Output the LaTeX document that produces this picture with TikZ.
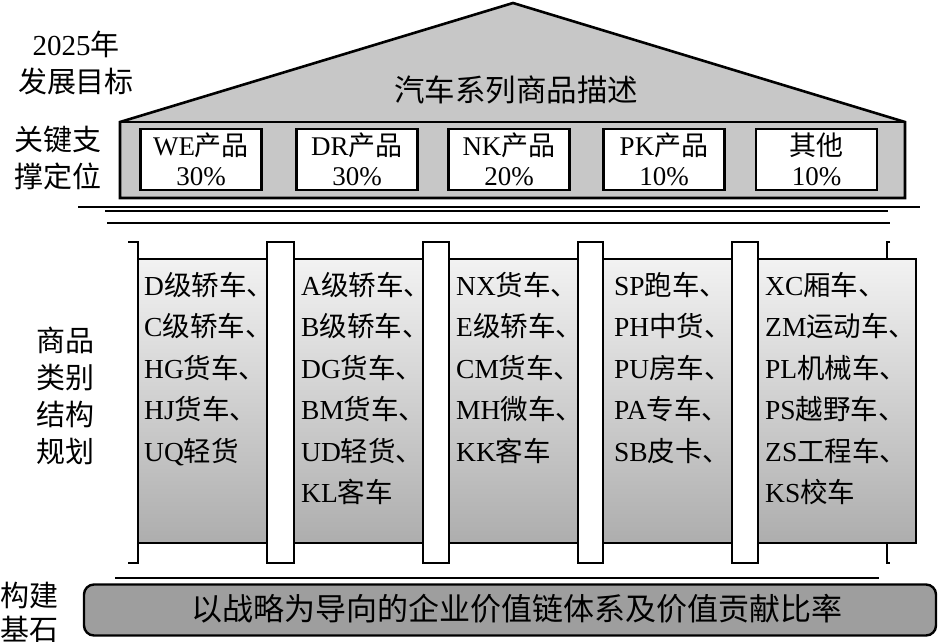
\documentclass[tikz,border=0pt]{standalone}
\usepackage{fontspec}
\usepackage{tikz}
\setmainfont{Liberation Serif}
\newfontfamily\cjkfont{Noto Sans CJK SC}
% switch to the CJK face between Latin and Chinese characters
\XeTeXinterchartokenstate=1
\newXeTeXintercharclass\cjkclass
\newcount\cjkchar
\cjkchar="3000
\loop
  \XeTeXcharclass\cjkchar=\cjkclass
  \advance\cjkchar by 1
\ifnum\cjkchar<"A000 \repeat
\XeTeXinterchartoks 0 \cjkclass={\cjkfont}
\XeTeXinterchartoks 4095 \cjkclass={\cjkfont}
\XeTeXinterchartoks \cjkclass 0={\rmfamily}
\XeTeXinterchartoks \cjkclass 4095={\rmfamily}
\tikzset{
  housebody/.style={draw=black,line width=2.6pt,fill=black!22,line join=miter},
  prodbox/.style={draw=black,line width=2.4pt,fill=white,
    minimum width=121pt,minimum height=61pt,inner sep=0pt,align=center,
    font=\fontsize{27}{30}\selectfont},
  pillar/.style={draw=black,line width=2.4pt,fill=white},
  panel/.style={draw=black,line width=2.4pt,top color=black!5,bottom color=black!32},
  itemtext/.style={anchor=north west,align=left,inner sep=0pt,
    font=\fontsize{27.5}{41.5}\selectfont},
  sidelabel/.style={align=center,inner sep=0pt,font=\fontsize{29}{37}\selectfont},
  basebar/.style={draw=black,line width=2.4pt,fill=black!38,rounded corners=10pt,
    minimum width=852pt,minimum height=51pt,inner sep=0pt},
  thinrule/.style={line width=1.3pt}
}

\begin{document}
\begin{tikzpicture}[x=1pt,y=-1pt]
  \useasboundingbox (0,0) rectangle (938,642);
  % roof and support band
  \draw[housebody] (120,198) -- (120,122) -- (513,3) -- (905,122) -- (905,198) -- cycle;
  \draw[line width=2.6pt] (120,122) -- (905,122);
  \node[font=\fontsize{30.5}{34}\selectfont] (title) at (516,90) {汽车系列商品描述};
  \node[prodbox] (we) at (201,159.5) {WE产品\\30\%};
  \node[prodbox] (dr) at (357,159.5) {DR产品\\30\%};
  \node[prodbox] (nk) at (509,159.5) {NK产品\\20\%};
  \node[prodbox] (pk) at (664,159.5) {PK产品\\10\%};
  \node[prodbox] (other) at (816.5,159.5) {其他\\10\%};
  \draw[thinrule] (78,207) -- (920,207);
  \draw[thinrule] (105,211) -- (888,211);
  \draw[thinrule] (107,223) -- (890,223);
  % brackets, pillars and category panels
  \draw[line width=2.4pt] (128,242) -- (138,242) -- (138,563) -- (128,563);
  \draw[line width=2.4pt] (890,242) -- (887,242) -- (887,563) -- (890,563);
  \draw[pillar] (267,242) rectangle (294,563);
  \draw[pillar] (423,242) rectangle (449,563);
  \draw[pillar] (578,242) rectangle (603,563);
  \draw[pillar] (732,242) rectangle (758,563);
  \draw[panel] (138,259) rectangle (267,543);
  \draw[panel] (294,259) rectangle (423,543);
  \draw[panel] (449,259) rectangle (578,543);
  \draw[panel] (603,259) rectangle (732,543);
  \draw[panel] (758,259) rectangle (916,543);
  \node[itemtext] (colA) at (144,272) {D级轿车、\\C级轿车、\\HG货车、\\HJ货车、\\UQ轻货};
  \node[itemtext] (colB) at (301,272) {A级轿车、\\B级轿车、\\DG货车、\\BM货车、\\UD轻货、\\KL客车};
  \node[itemtext] (colC) at (456,272) {NX货车、\\E级轿车、\\CM货车、\\MH微车、\\KK客车};
  \node[itemtext] (colD) at (614,272) {SP跑车、\\PH中货、\\PU房车、\\PA专车、\\SB皮卡、};
  \node[itemtext] (colE) at (765,272) {XC厢车、\\ZM运动车、\\PL机械车、\\PS越野车、\\ZS工程车、\\KS校车};
  % foundation
  \draw[thinrule] (115,578) -- (879,578);
  \node[basebar] (base) at (510,610) {};
  \node[font=\fontsize{31}{34}\selectfont] (basetext) at (517,609) {以战略为导向的企业价值链体系及价值贡献比率};
  % side labels
  \node[sidelabel] (goal) at (76,63) {2025年\\发展目标};
  \node[sidelabel] (support) at (58,158) {关键支\\撑定位};
  \node[sidelabel] (plan) at (65,396) {商品\\类别\\结构\\规划};
  \node[sidelabel,font=\fontsize{29}{34}\selectfont] (basis) at (30,612) {构建\\基石};
\end{tikzpicture}
\end{document}
